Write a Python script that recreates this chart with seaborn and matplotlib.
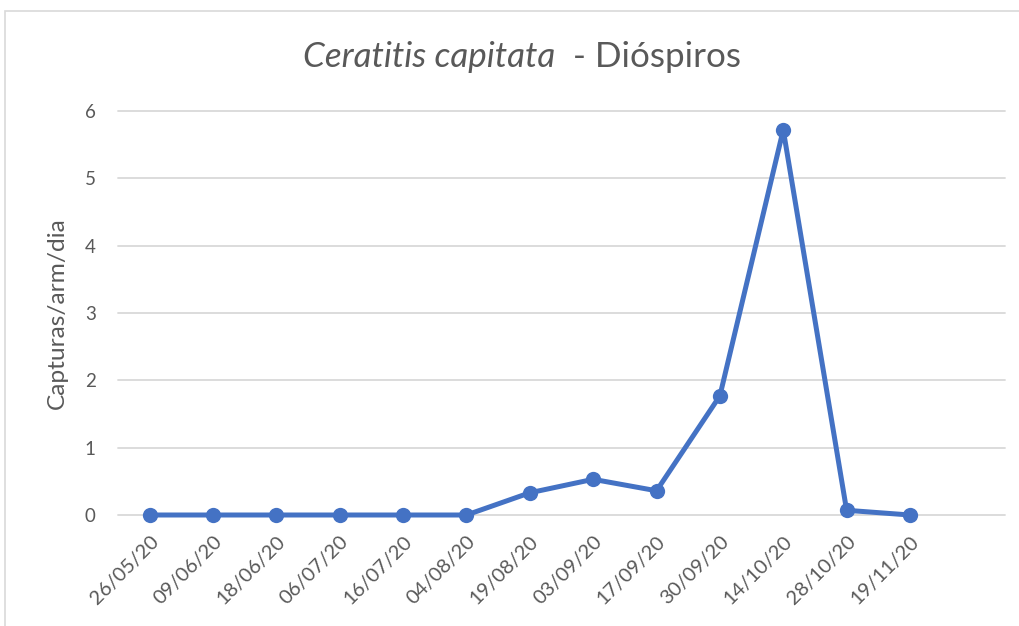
import matplotlib
matplotlib.use("Agg")
import matplotlib.pyplot as plt
import seaborn as sns
from matplotlib.patches import Rectangle

# data
dates = ["26/05/20", "09/06/20", "18/06/20", "06/07/20", "16/07/20", "04/08/20",
         "19/08/20", "03/09/20", "17/09/20", "30/09/20", "14/10/20", "28/10/20", "19/11/20"]
capturas = [0, 0, 0, 0, 0, 0, 0.33, 0.53, 0.36, 1.77, 5.72, 0.07, 0]
y_ticks = [0, 1, 2, 3, 4, 5, 6]

sns.set_theme(style="white")
plt.rcParams['font.family'] = ['Lato', 'DejaVu Sans']
text_col = '#595959'
line_col = '#4472C4'

W, H = 1019, 626
fig = plt.figure(figsize=(W / 100, H / 100), dpi=100)
fig.patch.set_facecolor('white')

# chart frame (light grey border, partly cut off by the crop)
fig.patches.append(Rectangle((5 / W, -0.1), 1.2, (H - 11) / H + 0.1, transform=fig.transFigure,
                             fill=False, edgecolor='#d9d9d9', linewidth=1.2))

ax = fig.add_axes([118 / W, (H - 515) / H, (1005 - 118) / W, (515 - 111) / H])
for y in y_ticks:
    ax.axhline(y, color='#d9d9d9', linewidth=1.3, zorder=0)
sns.lineplot(x=dates, y=capturas, ax=ax, color=line_col, linewidth=3.6,
             marker='o', markersize=11, markeredgewidth=0, sort=False)
for ln in ax.get_lines():
    ln.set_clip_on(False)

ax.set_xlim(-0.5, len(dates) + 0.5)
ax.set_ylim(0, 6)
ax.set_yticks(y_ticks)
for s in ax.spines.values():
    s.set_visible(False)

ax.tick_params(axis='y', length=0, pad=16, labelsize=13.5, labelcolor=text_col)
ax.tick_params(axis='x', length=0, pad=13, labelsize=14, labelcolor=text_col)
ax.set_xticks(range(len(dates)))
ax.set_xticklabels(dates, rotation=45, ha='right', rotation_mode='anchor')
ax.set_xlabel('')
ax.set_ylabel('Capturas/arm/dia', fontsize=15, color=text_col)
ax.yaxis.set_label_coords((68 - 118) / (1005 - 118), 0.5)

# title with italic species name
t1 = fig.text(303 / W, (H - 67) / H, 'Ceratitis capitata', fontsize=22, style='italic',
              color=text_col, ha='left', va='baseline')
t2 = ax.annotate('  - Dióspiros', xy=(1, 0), xycoords=t1, fontsize=22, color=text_col,
                 ha='left', va='bottom', annotation_clip=False)

# scale font sizes so text lengths match the original
fig.canvas.draw()
r = fig.canvas.get_renderer()
tw = t2.get_window_extent(r).x1 - t1.get_window_extent(r).x0
for t in (t1, t2):
    t.set_fontsize(22 * 437 / tw)
yl = ax.yaxis.label
yl.set_fontsize(15 * 192 / yl.get_window_extent(r).height)
lab = ax.get_xticklabels()[0]
xs = 14 * 75 / lab.get_window_extent(r).width
ax.tick_params(axis='x', labelsize=xs)

fig.savefig('out.png', dpi=100)
